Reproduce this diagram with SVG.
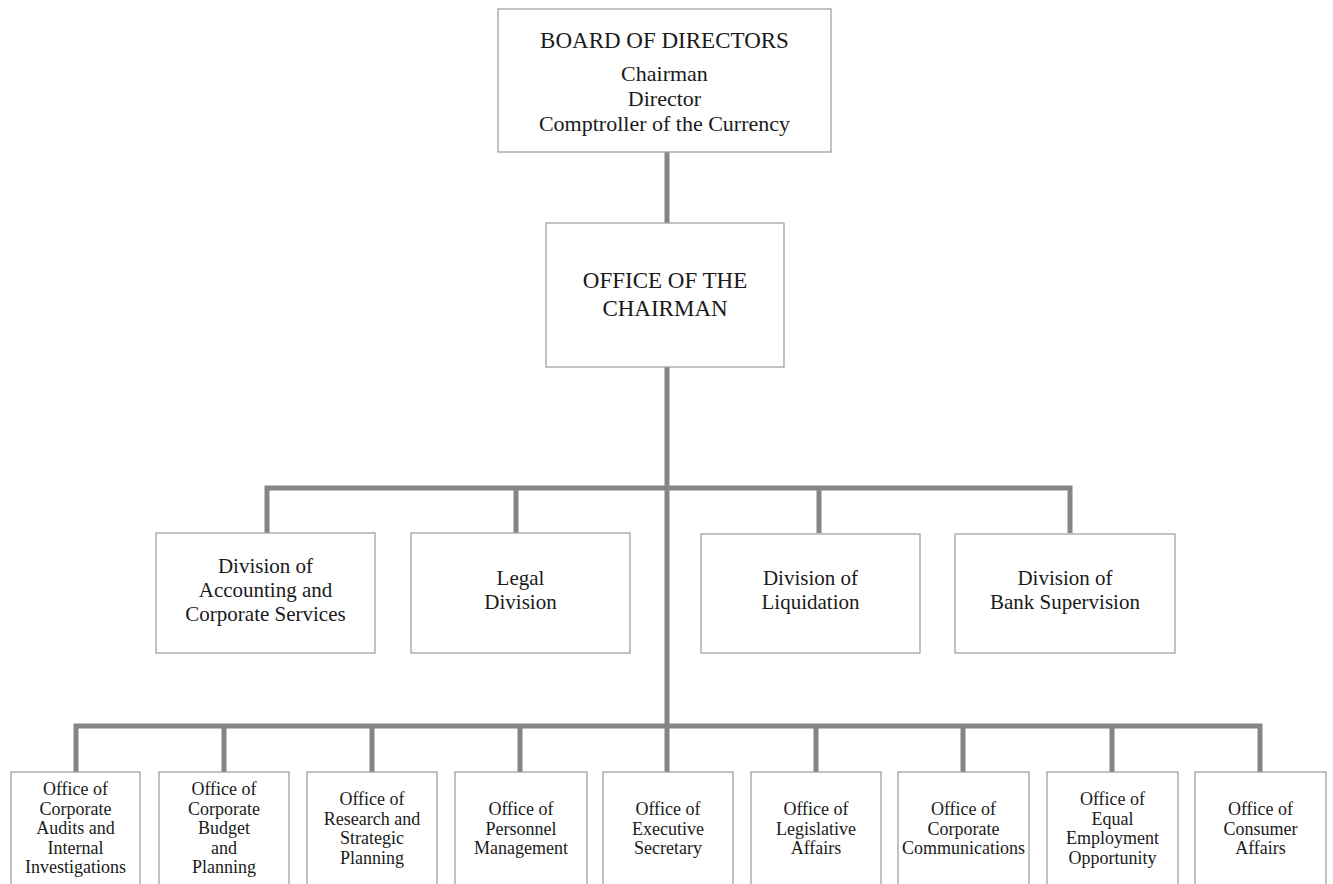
<svg xmlns="http://www.w3.org/2000/svg" width="1333" height="884" viewBox="0 0 1333 884">
<style>
.box{fill:#fff;stroke:#9a9a9a;stroke-width:1.2}
.conn{fill:none;stroke:#858585;stroke-width:5;stroke-linejoin:miter;stroke-linecap:butt}
text{font-family:"Liberation Serif","Times New Roman",serif;fill:#1a1a1a;text-anchor:middle}
.caps{font-size:23px}
.top{font-size:22px}
.div{font-size:21px}
.off{font-size:18px}
</style>
<rect width="1333" height="884" fill="#fff"/>
<g id="connectors">
<path class="conn" d="M667 152V223"/>
<path class="conn" d="M667 367V772"/>
<path class="conn" d="M267 533V488H1070V533M516 488V533M819 488V533"/>
<path class="conn" d="M76 772V726H1260V772M224 726V772M372 726V772M520 726V772M816 726V772M963 726V772M1112 726V772"/>
</g>
<g id="board">
<rect class="box" x="498" y="9" width="333" height="143"/>
<text class="caps" x="664.5" y="48">BOARD OF DIRECTORS</text>
<text class="top" x="664.5" y="81">Chairman</text>
<text class="top" x="664.5" y="106">Director</text>
<text class="top" x="664.5" y="131">Comptroller of the Currency</text>
</g>
<g id="chairman">
<rect class="box" x="546" y="223" width="238" height="144"/>
<text class="caps" x="665" y="288">OFFICE OF THE</text>
<text class="caps" x="665" y="316">CHAIRMAN</text>
</g>
<g id="div-accounting">
<rect class="box" x="156" y="533" width="219" height="120"/>
<text class="div" x="265.5" y="573">Division of</text>
<text class="div" x="265.5" y="597">Accounting and</text>
<text class="div" x="265.5" y="621">Corporate Services</text>
</g>
<g id="div-legal">
<rect class="box" x="411" y="533" width="219" height="120"/>
<text class="div" x="520.5" y="585">Legal</text>
<text class="div" x="520.5" y="609">Division</text>
</g>
<g id="div-liquidation">
<rect class="box" x="701" y="534" width="219" height="119"/>
<text class="div" x="810.5" y="585">Division of</text>
<text class="div" x="810.5" y="609">Liquidation</text>
</g>
<g id="div-bank">
<rect class="box" x="955" y="534" width="220" height="119"/>
<text class="div" x="1065" y="585">Division of</text>
<text class="div" x="1065" y="609">Bank Supervision</text>
</g>
<g id="off-audits">
<rect class="box" x="11" y="772" width="129" height="130"/>
<text class="off" x="75.5" y="795">Office of</text>
<text class="off" x="75.5" y="814.5">Corporate</text>
<text class="off" x="75.5" y="834">Audits and</text>
<text class="off" x="75.5" y="853.5">Internal</text>
<text class="off" x="75.5" y="873">Investigations</text>
</g>
<g id="off-budget">
<rect class="box" x="159" y="772" width="130" height="130"/>
<text class="off" x="224" y="795">Office of</text>
<text class="off" x="224" y="814.5">Corporate</text>
<text class="off" x="224" y="834">Budget</text>
<text class="off" x="224" y="853.5">and</text>
<text class="off" x="224" y="873">Planning</text>
</g>
<g id="off-research">
<rect class="box" x="307" y="772" width="130" height="130"/>
<text class="off" x="372" y="805">Office of</text>
<text class="off" x="372" y="824.5">Research and</text>
<text class="off" x="372" y="844">Strategic</text>
<text class="off" x="372" y="863.5">Planning</text>
</g>
<g id="off-personnel">
<rect class="box" x="455" y="772" width="132" height="130"/>
<text class="off" x="521" y="815">Office of</text>
<text class="off" x="521" y="834.5">Personnel</text>
<text class="off" x="521" y="854">Management</text>
</g>
<g id="off-executive">
<rect class="box" x="603" y="772" width="130" height="130"/>
<text class="off" x="668" y="815">Office of</text>
<text class="off" x="668" y="834.5">Executive</text>
<text class="off" x="668" y="854">Secretary</text>
</g>
<g id="off-legislative">
<rect class="box" x="751" y="772" width="130" height="130"/>
<text class="off" x="816" y="815">Office of</text>
<text class="off" x="816" y="834.5">Legislative</text>
<text class="off" x="816" y="854">Affairs</text>
</g>
<g id="off-communications">
<rect class="box" x="898" y="772" width="131" height="130"/>
<text class="off" x="963.5" y="815">Office of</text>
<text class="off" x="963.5" y="834.5">Corporate</text>
<text class="off" x="963.5" y="854">Communications</text>
</g>
<g id="off-equal">
<rect class="box" x="1047" y="772" width="131" height="130"/>
<text class="off" x="1112.5" y="805">Office of</text>
<text class="off" x="1112.5" y="824.5">Equal</text>
<text class="off" x="1112.5" y="844">Employment</text>
<text class="off" x="1112.5" y="863.5">Opportunity</text>
</g>
<g id="off-consumer">
<rect class="box" x="1195" y="772" width="131" height="130"/>
<text class="off" x="1260.5" y="815">Office of</text>
<text class="off" x="1260.5" y="834.5">Consumer</text>
<text class="off" x="1260.5" y="854">Affairs</text>
</g>
</svg>
